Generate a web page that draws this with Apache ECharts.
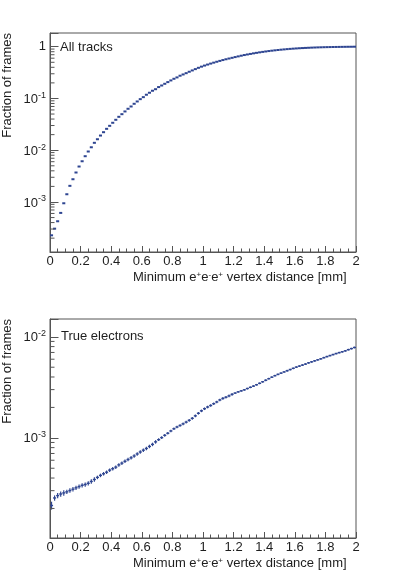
<!DOCTYPE html>
<html><head><meta charset="utf-8">
<script src="https://cdn.jsdelivr.net/npm/echarts@6/dist/echarts.min.js"></script>
<style>html,body{margin:0;padding:0;background:#fff}#c{width:399px;height:572px}</style>
</head><body><div id="c"></div>
<script>
// ---- data ----
const binWidth = 0.02;
const nBins = 100;
const xTickLabels = ['0','0.2','0.4','0.6','0.8','1','1.2','1.4','1.6','1.8','2'];
const topLabel = 'All tracks';
const bottomLabel = 'True electrons';
const yTitle = 'Fraction of frames';
const topValues = [
 2.27e-4, 3.05e-4, 4.24e-4, 6.15e-4, 9.44e-4, 1.41e-3, 2.05e-3, 2.75e-3, 3.71e-3, 4.84e-3,
 6.12e-3, 7.66e-3, 9.44e-3, 0.0114, 0.0139, 0.0163, 0.0192, 0.0223, 0.0259, 0.0296,
 0.0339, 0.0387, 0.0442, 0.0497, 0.0561, 0.0632, 0.0700, 0.0789, 0.0875, 0.0970,
 0.106, 0.118, 0.129, 0.141, 0.151, 0.166, 0.178, 0.192, 0.207, 0.223,
 0.240, 0.255, 0.275, 0.291, 0.308, 0.328, 0.348, 0.369, 0.391, 0.412,
 0.432, 0.452, 0.472, 0.492, 0.512, 0.532, 0.552, 0.572, 0.591, 0.610,
 0.630, 0.650, 0.670, 0.690, 0.708, 0.726, 0.744, 0.761, 0.778, 0.794,
 0.809, 0.824, 0.838, 0.851, 0.864, 0.876, 0.887, 0.898, 0.908, 0.917,
 0.926, 0.934, 0.941, 0.948, 0.954, 0.960, 0.965, 0.970, 0.974, 0.978,
 0.981, 0.984, 0.987, 0.989, 0.991, 0.993, 0.995, 0.997, 0.998, 1.000
];
const bottomValues = [
 2.14e-4, 2.54e-4, 2.68e-4, 2.78e-4, 2.85e-4, 2.92e-4, 3.01e-4, 3.10e-4, 3.20e-4, 3.29e-4,
 3.39e-4, 3.45e-4, 3.55e-4, 3.70e-4, 3.87e-4, 4.06e-4, 4.25e-4, 4.41e-4, 4.57e-4, 4.79e-4,
 4.95e-4, 5.13e-4, 5.40e-4, 5.62e-4, 5.86e-4, 6.10e-4, 6.34e-4, 6.61e-4, 6.92e-4, 7.24e-4,
 7.55e-4, 7.85e-4, 8.22e-4, 8.61e-4, 9.12e-4, 9.59e-4, 1.005e-3, 1.059e-3, 1.110e-3, 1.170e-3,
 1.230e-3, 1.280e-3, 1.325e-3, 1.375e-3, 1.430e-3, 1.490e-3, 1.560e-3, 1.650e-3, 1.750e-3, 1.850e-3,
 1.941e-3, 2.018e-3, 2.089e-3, 2.178e-3, 2.265e-3, 2.371e-3, 2.455e-3, 2.523e-3, 2.600e-3, 2.692e-3,
 2.773e-3, 2.851e-3, 2.917e-3, 2.985e-3, 3.076e-3, 3.162e-3, 3.251e-3, 3.350e-3, 3.467e-3, 3.589e-3,
 3.715e-3, 3.846e-3, 3.981e-3, 4.121e-3, 4.246e-3, 4.365e-3, 4.487e-3, 4.613e-3, 4.742e-3, 4.875e-3,
 5.012e-3, 5.129e-3, 5.248e-3, 5.370e-3, 5.521e-3, 5.649e-3, 5.781e-3, 5.916e-3, 6.053e-3, 6.209e-3,
 6.368e-3, 6.516e-3, 6.668e-3, 6.823e-3, 6.966e-3, 7.112e-3, 7.261e-3, 7.447e-3, 7.638e-3, 7.834e-3
];
// relative statistical errors of the lower histogram, in percent
const bottomErrPct = [
 9, 6, 6, 6, 6, 5, 5, 5, 5, 5,
 5, 5, 5, 5, 5, 4, 4, 4, 4, 4,
 4, 4, 4, 4, 4, 4, 4, 4, 4, 4,
 4, 4, 4, 4, 4, 3, 3, 3, 3, 3,
 3, 3, 3, 3, 3, 3, 3, 3, 3, 3,
 3, 3, 3, 3, 3, 3, 3, 3, 3, 3,
 2, 2, 2, 2, 2, 2, 2, 2, 2, 2,
 2, 2, 2, 2, 2, 2, 2, 2, 2, 2,
 2, 2, 2, 2, 2, 2, 2, 2, 2, 2,
 2, 2, 2, 2, 2, 2, 2, 2, 2, 2
];
const topRange = [1.08e-4, 1.84];
const bottomRange = [1.02e-4, 0.0150];

// ---- build ----
const FONT = 'Liberation Sans, Arial, Helvetica, sans-serif';
const INK = '#1e1e1e';
const FRAME = '#555';
const MARK = '#2e4591';

function centers() { const c = []; for (let i = 0; i < nBins; i++) c.push(+(binWidth * (i + 0.5)).toFixed(4)); return c; }
const xc = centers();
const topData = topValues.map((v, i) => [xc[i], v, 0]);
const bottomData = bottomValues.map((v, i) => [xc[i], v, v * bottomErrPct[i] / 100]);

function minorVals(range) {
  const out = [];
  for (let d = -6; d <= 1; d++) for (let m = 2; m <= 9; m++) {
    const v = m * Math.pow(10, d);
    if (v > range[0] && v < range[1]) out.push([0, v]);
  }
  return out;
}

function histItem(withErr, lw) {
  return function (params, api) {
    const x = api.value(0), y = api.value(1), e = api.value(2);
    const a = api.coord([x - binWidth / 2, y]);
    const b = api.coord([x + binWidth / 2, y]);
    const ch = [{ type: 'line', shape: { x1: a[0], y1: a[1], x2: b[0], y2: b[1] }, style: { stroke: MARK, lineWidth: lw } }];
    if (withErr && e > 0) {
      const lo = api.coord([x, y - e]), hi = api.coord([x, y + e]);
      ch.push({ type: 'line', shape: { x1: lo[0], y1: lo[1], x2: hi[0], y2: hi[1] }, style: { stroke: MARK, lineWidth: 1.2 } });
    }
    return { type: 'group', children: ch };
  };
}
function minorTickItem(params, api) {
  const p = api.coord([0, api.value(1)]);
  return { type: 'line', shape: { x1: p[0], y1: p[1], x2: p[0] + 4.5, y2: p[1] }, style: { stroke: FRAME, lineWidth: 1 } };
}

const sup = { b: { fontSize: 13, fontFamily: FONT, color: INK, verticalAlign: 'bottom' },
              s: { fontSize: 9, fontFamily: FONT, color: INK, verticalAlign: 'top', padding: [0, 0, 6, 0] } };

function yLabel(v) {
  const l = Math.log10(v), e = Math.round(l);
  if (Math.abs(l - e) > 1e-6) return '';
  if (e === 0) return '{b|1}';
  return '{b|10}{s|' + e + '}';
}

function xAxis(gi) {
  return {
    type: 'value', gridIndex: gi, min: 0, max: 2, interval: 0.2,
    axisLine: { show: true, lineStyle: { color: FRAME, width: 1 } },
    axisTick: { show: true, inside: true, length: 6, lineStyle: { color: FRAME } },
    minorTick: { show: true, splitNumber: 4, length: 3.5, lineStyle: { color: FRAME } },
    splitLine: { show: false },
    axisLabel: { color: INK, fontSize: 13, fontFamily: FONT, margin: 3,
      formatter: v => xTickLabels[Math.round(v / 0.2)] },
    name: '{n|Minimum e}{s|+}{n|e}{s|-}{n|e}{s|+}{n| vertex distance [mm]}',
    nameLocation: 'end', nameGap: -223, nameMoveOverlap: false,
    nameTextStyle: { verticalAlign: 'top', padding: [19, 0, 0, 0],
      rich: { n: { fontSize: 13, fontFamily: FONT, color: INK, verticalAlign: 'bottom' },
              s: { fontSize: 8, fontFamily: FONT, color: INK, verticalAlign: 'top', padding: [0, 0, 5, 0] } } }
  };
}
function yAxis(gi, range) {
  return {
    type: 'log', logBase: 10, gridIndex: gi, min: range[0], max: range[1],
    axisLine: { show: true, lineStyle: { color: FRAME, width: 1 } },
    axisTick: { show: true, inside: true, length: 8.5, lineStyle: { color: FRAME } },
    minorTick: { show: false }, splitLine: { show: false },
    axisLabel: { margin: 4, formatter: yLabel, rich: sup, showMinLabel: true, showMaxLabel: true },
    name: yTitle, nameLocation: 'end', nameGap: 0, nameRotate: 90, nameMoveOverlap: false,
    nameTextStyle: { align: 'right', verticalAlign: 'bottom', padding: [0, 0, 36, 0], fontSize: 13, fontFamily: FONT, color: INK }
  };
}

const chart = echarts.init(document.getElementById('c'), null, { renderer: 'canvas' });
chart.setOption({
  animation: false,
  backgroundColor: '#fff',
  title: [
    { text: topLabel, left: 60, top: 41, padding: 0, textStyle: { fontSize: 13, fontWeight: 'normal', fontFamily: FONT, color: INK } },
    { text: bottomLabel, left: 61, top: 330, padding: 0, textStyle: { fontSize: 13, fontWeight: 'normal', fontFamily: FONT, color: INK } }
  ],
  grid: [
    { left: 50, top: 33, width: 306, height: 219, containLabel: false, outerBoundsMode: 'none', show: true, borderColor: FRAME, borderWidth: 1, backgroundColor: 'transparent' },
    { left: 50, top: 319, width: 306, height: 219, containLabel: false, outerBoundsMode: 'none', show: true, borderColor: FRAME, borderWidth: 1, backgroundColor: 'transparent' }
  ],
  xAxis: [xAxis(0), xAxis(1)],
  yAxis: [yAxis(0, topRange), yAxis(1, bottomRange)],
  series: [
    { type: 'custom', name: topLabel, xAxisIndex: 0, yAxisIndex: 0, data: topData, renderItem: histItem(false, 2), encode: { x: 0, y: 1 }, silent: true },
    { type: 'custom', name: bottomLabel, xAxisIndex: 1, yAxisIndex: 1, data: bottomData, renderItem: histItem(true, 1.4), encode: { x: 0, y: 1 }, silent: true },
    { type: 'custom', xAxisIndex: 0, yAxisIndex: 0, data: minorVals(topRange), renderItem: minorTickItem, encode: { x: 0, y: 1 }, silent: true },
    { type: 'custom', xAxisIndex: 1, yAxisIndex: 1, data: minorVals(bottomRange), renderItem: minorTickItem, encode: { x: 0, y: 1 }, silent: true }
  ]
});
</script></body></html>
